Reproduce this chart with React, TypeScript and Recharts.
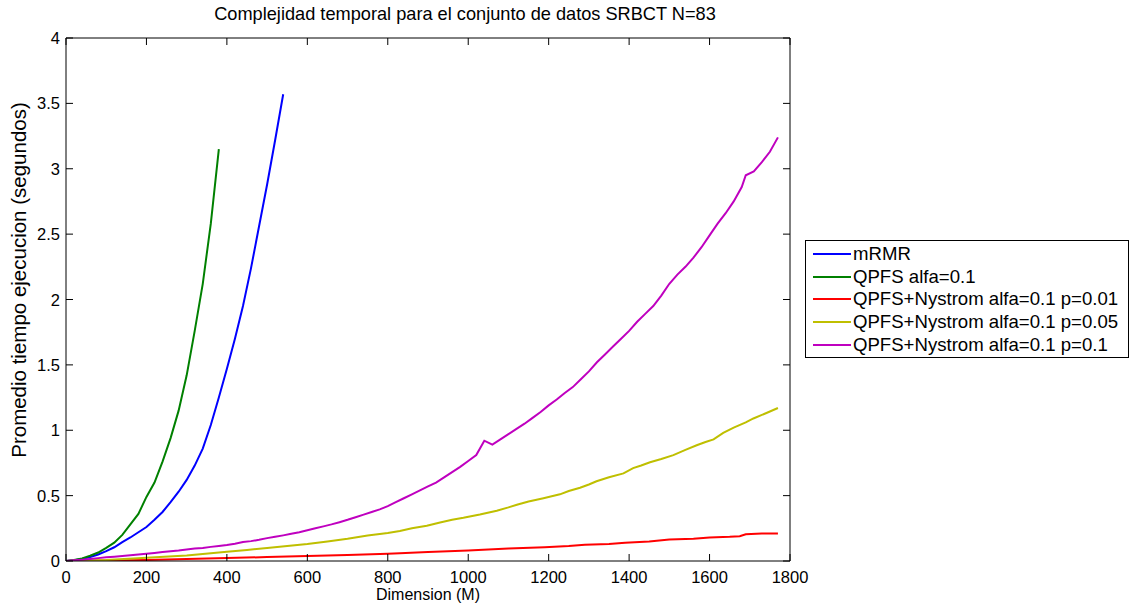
import React from 'react';
import { LineChart, Line, XAxis, YAxis, Legend } from 'recharts';

const TITLE = 'Complejidad temporal para el conjunto de datos SRBCT N=83';
const X_LABEL = 'Dimension (M)';
const Y_LABEL = 'Promedio tiempo ejecucion (segundos)';

const xTicks = [0, 200, 400, 600, 800, 1000, 1200, 1400, 1600, 1800];
const yTicks = [0, 0.5, 1, 1.5, 2, 2.5, 3, 3.5, 4];

const mrmrDim = [0, 20, 40, 60, 80, 100, 120, 140, 160, 180, 200, 220, 240, 260, 280, 300, 320, 340, 360, 380, 400, 420, 440, 460, 480, 500, 520, 540];
const mrmrTime = [0, 0.005, 0.015, 0.03, 0.05, 0.075, 0.105, 0.145, 0.18, 0.22, 0.26, 0.315, 0.375, 0.45, 0.53, 0.62, 0.73, 0.86, 1.04, 1.25, 1.47, 1.7, 1.95, 2.24, 2.56, 2.88, 3.22, 3.57];

const qpfsDim = [0, 20, 40, 60, 80, 100, 120, 140, 160, 180, 200, 220, 240, 260, 280, 300, 320, 340, 360, 380];
const qpfsTime = [0, 0.008, 0.02, 0.04, 0.065, 0.1, 0.14, 0.2, 0.28, 0.36, 0.49, 0.6, 0.76, 0.94, 1.15, 1.42, 1.76, 2.12, 2.58, 3.15];

const ny001Dim = [0, 100, 200, 300, 400, 500, 600, 700, 800, 830, 900, 1000, 1100, 1190, 1250, 1290, 1350, 1390, 1450, 1500, 1560, 1600, 1650, 1675, 1690, 1730, 1770];
const ny001Time = [0, 0.003, 0.008, 0.015, 0.022, 0.03, 0.038, 0.045, 0.055, 0.06, 0.068, 0.08, 0.095, 0.105, 0.115, 0.125, 0.13, 0.14, 0.15, 0.165, 0.17, 0.18, 0.185, 0.19, 0.205, 0.21, 0.21];

const ny005Dim = [0, 100, 200, 300, 400, 450, 500, 550, 600, 650, 700, 750, 800, 830, 860, 897, 930, 960, 988, 1029, 1071, 1100, 1121, 1150, 1187, 1228, 1250, 1278, 1300, 1319, 1350, 1386, 1410, 1430, 1452, 1480, 1510, 1540, 1568, 1590, 1610, 1634, 1660, 1690, 1709, 1740, 1770];
const ny005Time = [0, 0.008, 0.025, 0.043, 0.07, 0.085, 0.1, 0.115, 0.13, 0.15, 0.17, 0.195, 0.215, 0.23, 0.25, 0.27, 0.295, 0.315, 0.33, 0.355, 0.385, 0.41, 0.43, 0.455, 0.48, 0.51, 0.535, 0.56, 0.585, 0.61, 0.64, 0.67, 0.71, 0.73, 0.755, 0.78, 0.81, 0.85, 0.885, 0.91, 0.93, 0.98, 1.02, 1.06, 1.09, 1.13, 1.17];

const ny01Dim = [0, 20, 40, 60, 80, 100, 120, 140, 160, 180, 200, 220, 240, 260, 280, 300, 320, 340, 360, 380, 400, 420, 440, 460, 480, 500, 520, 540, 560, 580, 600, 620, 640, 660, 680, 700, 720, 740, 760, 780, 800, 820, 840, 860, 880, 900, 920, 940, 960, 980, 1000, 1020, 1040, 1060, 1080, 1100, 1120, 1140, 1160, 1180, 1200, 1220, 1240, 1260, 1280, 1300, 1320, 1340, 1360, 1380, 1400, 1420, 1440, 1460, 1480, 1500, 1520, 1540, 1560, 1580, 1600, 1620, 1640, 1660, 1680, 1690, 1710, 1730, 1750, 1770];
const ny01Time = [0, 0.005, 0.01, 0.016, 0.022, 0.028, 0.033, 0.038, 0.044, 0.05, 0.056, 0.062, 0.068, 0.074, 0.08, 0.088, 0.095, 0.1, 0.108, 0.115, 0.122, 0.132, 0.145, 0.152, 0.162, 0.175, 0.185, 0.196, 0.208, 0.22, 0.235, 0.25, 0.265, 0.28, 0.297, 0.315, 0.335, 0.355, 0.375, 0.395, 0.42, 0.45, 0.48, 0.51, 0.54, 0.57, 0.6, 0.64, 0.68, 0.72, 0.765, 0.81, 0.92, 0.89, 0.93, 0.97, 1.01, 1.05, 1.095, 1.14, 1.19, 1.235, 1.285, 1.33, 1.39, 1.45, 1.52, 1.58, 1.64, 1.7, 1.76, 1.83, 1.89, 1.95, 2.03, 2.12, 2.19, 2.25, 2.32, 2.4, 2.49, 2.58, 2.66, 2.75, 2.86, 2.95, 2.98, 3.05, 3.13, 3.24];

const seriesNames = ['mRMR', 'QPFS alfa=0.1', 'QPFS+Nystrom alfa=0.1 p=0.01', 'QPFS+Nystrom alfa=0.1 p=0.05', 'QPFS+Nystrom alfa=0.1 p=0.1'];
const seriesColors = ['#0000FF', '#008000', '#FF0000', '#BFBF00', '#BF00BF'];

const toPoints = (dims: number[], times: number[]) => dims.map((d, i) => ({ x: d, y: times[i] }));
const seriesData = [
  toPoints(mrmrDim, mrmrTime),
  toPoints(qpfsDim, qpfsTime),
  toPoints(ny001Dim, ny001Time),
  toPoints(ny005Dim, ny005Time),
  toPoints(ny01Dim, ny01Time),
];

const FONT = '"Liberation Sans", Arial, Helvetica, sans-serif';
const W = 1137;
const H = 607;
const PLOT_LEFT = 66;
const PLOT_TOP = 38;
const PLOT_RIGHT = 790;
const PLOT_BOTTOM = 561;
const TICK_LEN = 7;

const XTick = (props: any) => {
  const { x, payload } = props;
  return (
    <g>
      <line x1={x} x2={x} y1={PLOT_BOTTOM} y2={PLOT_BOTTOM - TICK_LEN} stroke="#000" strokeWidth={1} />
      <line x1={x} x2={x} y1={PLOT_TOP} y2={PLOT_TOP + TICK_LEN} stroke="#000" strokeWidth={1} />
      <text x={x} y={PLOT_BOTTOM + 16} textAnchor="middle" dominantBaseline="central" fontFamily={FONT} fontSize={16.5} fill="#000">
        {payload.value}
      </text>
    </g>
  );
};

const YTick = (props: any) => {
  const { y, payload } = props;
  return (
    <g>
      <line x1={PLOT_LEFT} x2={PLOT_LEFT + TICK_LEN} y1={y} y2={y} stroke="#000" strokeWidth={1} />
      <line x1={PLOT_RIGHT} x2={PLOT_RIGHT - TICK_LEN} y1={y} y2={y} stroke="#000" strokeWidth={1} />
      <text x={PLOT_LEFT - 6} y={y} textAnchor="end" dominantBaseline="central" fontFamily={FONT} fontSize={16.5} fill="#000">
        {payload.value}
      </text>
    </g>
  );
};

const TitleLabel = () => (
  <text x={465} y={14} textAnchor="middle" dominantBaseline="central" fontFamily={FONT} fontSize={18.2} fill="#000">
    {TITLE}
  </text>
);

const XLabel = (props: any) => {
  const vb = props.viewBox;
  return (
    <text x={vb.x + vb.width / 2} y={594} textAnchor="middle" dominantBaseline="central" fontFamily={FONT} fontSize={16} fill="#000">
      {X_LABEL}
    </text>
  );
};

const YLabel = () => {
  const cx = 18;
  const cy = 280;
  return (
    <text x={cx} y={cy} transform={`rotate(-90, ${cx}, ${cy})`} textAnchor="middle" dominantBaseline="central" fontFamily={FONT} fontSize={20.5} fill="#000">
      {Y_LABEL}
    </text>
  );
};

const LegendBox = () => (
  <div style={{ width: 324, height: 118, border: '1px solid #000', background: '#fff', boxSizing: 'border-box', paddingTop: 2, fontFamily: FONT, fontSize: 18.6, color: '#000' }}>
    {seriesNames.map((name, i) => (
      <div key={name} style={{ display: 'flex', alignItems: 'center', height: 22.6, whiteSpace: 'nowrap' }}>
        <svg width={46} height={10} style={{ flex: 'none' }}>
          <line x1={7} x2={45} y1={5} y2={5} stroke={seriesColors[i]} strokeWidth={2} />
        </svg>
        <span style={{ marginLeft: 1 }}>{name}</span>
      </div>
    ))}
  </div>
);

export default function App() {
  return (
    <div style={{ position: 'absolute', left: 0, top: 0, width: W, height: H, background: '#fff' }}>
      <LineChart width={W} height={H} margin={{ top: 0, right: 0, bottom: 0, left: 0 }}>
        <XAxis
          xAxisId="top"
          orientation="top"
          type="number"
          dataKey="x"
          domain={[0, 1800]}
          height={PLOT_TOP}
          tick={false}
          tickLine={false}
          axisLine={{ stroke: '#000', strokeWidth: 1 }}
          label={<TitleLabel />}
        />
        <XAxis
          type="number"
          dataKey="x"
          domain={[0, 1800]}
          ticks={xTicks}
          height={H - PLOT_BOTTOM}
          tick={<XTick />}
          tickLine={false}
          axisLine={{ stroke: '#000', strokeWidth: 1 }}
          interval={0}
          allowDataOverflow
          label={<XLabel />}
        />
        <YAxis
          type="number"
          domain={[0, 4]}
          ticks={yTicks}
          width={PLOT_LEFT}
          tick={<YTick />}
          tickLine={false}
          axisLine={{ stroke: '#000', strokeWidth: 1 }}
          interval={0}
          allowDataOverflow
          label={<YLabel />}
        />
        <YAxis
          yAxisId="right"
          orientation="right"
          type="number"
          domain={[0, 4]}
          width={W - PLOT_RIGHT}
          tick={false}
          tickLine={false}
          axisLine={{ stroke: '#000', strokeWidth: 1 }}
        />
        {seriesNames.map((name, i) => (
          <Line
            key={name}
            data={seriesData[i]}
            dataKey="y"
            name={name}
            type="linear"
            stroke={seriesColors[i]}
            strokeWidth={2}
            dot={false}
            isAnimationActive={false}
          />
        ))}
        <Legend
          layout="vertical"
          align="center"
          verticalAlign="middle"
          content={<LegendBox />}
          wrapperStyle={{ left: 805, top: 240, width: 324, height: 118 }}
        />
      </LineChart>
    </div>
  );
}
